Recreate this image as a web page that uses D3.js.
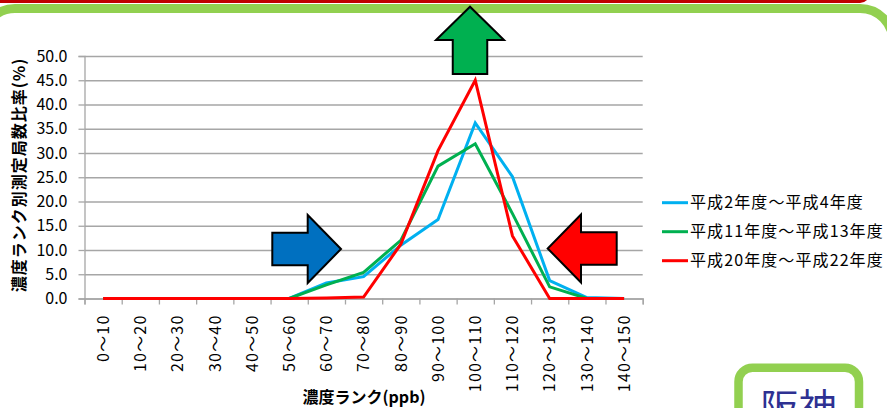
<!DOCTYPE html>
<html lang="ja">
<head>
<meta charset="utf-8">
<script src="https://cdn.jsdelivr.net/npm/d3@7"></script>
<style>
  html, body { margin: 0; padding: 0; background: #fff; }
  svg { display: block; font-family: "Noto Sans CJK JP", "Noto Sans", sans-serif; }
</style>
</head>
<body>
<svg id="chart" width="887" height="408"></svg>
<script>
// Concentration ranks (ppb)
const categories = ["0～10", "10～20", "20～30", "30～40", "40～50", "50～60", "60～70",
  "70～80", "80～90", "90～100", "100～110", "110～120", "120～130", "130～140", "140～150"];

// Share of monitoring stations in each rank (%)
const heisei02to04 = [0, 0, 0, 0, 0, 0, 3.2, 4.5, 11.0, 16.3, 36.2, 25.1, 3.7, 0.2, 0];
const heisei11to13 = [0, 0, 0, 0, 0, 0, 2.8, 5.4, 12.0, 27.3, 31.9, 17.5, 2.4, 0, 0];
const heisei20to22 = [0, 0, 0, 0, 0, 0, 0.1, 0.3, 11.2, 30.5, 45.0, 12.9, 0, 0, 0];

const seriesNames = ["平成2年度～平成4年度", "平成11年度～平成13年度", "平成20年度～平成22年度"];
const seriesColors = ["#00B0F0", "#00B050", "#FF0000"];
const yTicks = [0, 5, 10, 15, 20, 25, 30, 35, 40, 45, 50];

const yTitle = "濃度ランク別測定局数比率(%)";
const xTitle = "濃度ランク(ppb)";
const badge = "阪神";

const series = [heisei02to04, heisei11to13, heisei20to22].map((values, i) => ({
  name: seriesNames[i], color: seriesColors[i], values
}));

const svg = d3.select("#chart");
const plot = { left: 84.5, right: 642.7, top: 56, bottom: 298.5 };

// Page frame: red band and green rounded panel
svg.append("rect").attr("x", -20).attr("y", -30).attr("width", 890).attr("height", 33)
  .attr("rx", 10).attr("fill", "#C00000");
svg.append("rect").attr("x", -18).attr("y", 8.5).attr("width", 911).attr("height", 520)
  .attr("rx", 33).attr("fill", "#fff").attr("stroke", "#92D050").attr("stroke-width", 9);

const x = d3.scaleBand().domain(categories).range([plot.left, plot.right]);
const xEdge = d3.scaleLinear().domain([0, categories.length]).range([plot.left, plot.right]);
const y = d3.scaleLinear().domain([0, 50]).range([plot.bottom, plot.top]);

// Horizontal gridlines
svg.append("g")
  .attr("transform", `translate(${plot.left},0)`)
  .call(d3.axisLeft(y).tickValues(yTicks).tickSize(-(plot.right - plot.left)).tickFormat(""))
  .call(g => g.select(".domain").remove())
  .call(g => g.selectAll("line").attr("stroke", "#A6A6A6").attr("stroke-width", 1.3));

// Y axis
svg.append("g")
  .attr("transform", `translate(${plot.left},0)`)
  .call(d3.axisLeft(y).tickValues(yTicks).tickSize(6).tickPadding(11).tickFormat(d3.format(".1f")))
  .call(g => g.select(".domain").attr("stroke", "#A6A6A6").attr("stroke-width", 1.3))
  .call(g => g.selectAll("line").attr("stroke", "#A6A6A6").attr("stroke-width", 1.3))
  .call(g => g.selectAll("text").attr("font-size", 16).attr("fill", "#000")
    .attr("font-family", "'Noto Sans CJK JP', sans-serif"));

// X axis: ticks at category boundaries
svg.append("g")
  .attr("transform", `translate(0,${plot.bottom})`)
  .call(d3.axisBottom(xEdge).tickValues(d3.range(categories.length + 1)).tickSize(6).tickFormat(""))
  .call(g => g.select(".domain").attr("stroke", "#A6A6A6").attr("stroke-width", 1.3))
  .call(g => g.selectAll("line").attr("stroke", "#A6A6A6").attr("stroke-width", 1.3));

// X category labels, rotated
svg.append("g")
  .attr("transform", `translate(0,${plot.bottom})`)
  .call(d3.axisBottom(x).tickSize(0))
  .call(g => g.select(".domain").remove())
  .call(g => g.selectAll("text")
    .attr("transform", "rotate(-90)")
    .attr("text-anchor", "end")
    .attr("x", -16).attr("y", 0).attr("dy", "0.36em")
    .attr("font-size", 16).attr("letter-spacing", 1.2).attr("fill", "#000")
    .attr("font-family", "'Noto Sans CJK JP', sans-serif"));

// Series lines
const line = d3.line()
  .x((d, i) => x(categories[i]) + x.bandwidth() / 2)
  .y(d => y(d));

svg.append("g").selectAll("path").data(series).join("path")
  .attr("d", s => line(s.values))
  .attr("fill", "none")
  .attr("stroke", s => s.color)
  .attr("stroke-width", 3)
  .attr("stroke-linejoin", "miter");

// Block arrows
function blockArrow(tipX, tipY, dir, headLen, headW, shaftLen, shaftW) {
  // shape drawn pointing right, then rotated into place
  const pts = [
    [0, 0], [-headLen, -headW / 2], [-headLen, -shaftW / 2],
    [-headLen - shaftLen, -shaftW / 2], [-headLen - shaftLen, shaftW / 2],
    [-headLen, shaftW / 2], [-headLen, headW / 2]
  ];
  const angle = { right: 0, left: 180, up: -90 }[dir];
  return { d: "M" + pts.map(p => p.join(",")).join("L") + "Z",
           transform: `translate(${tipX},${tipY}) rotate(${angle})` };
}

const arrows = [
  { a: blockArrow(341, 249, "right", 33.3, 68, 35.4, 32.7), fill: "#0070C0" },
  { a: blockArrow(547.7, 248.5, "left", 33.3, 68, 35.7, 32.7), fill: "#FF0000" },
  { a: blockArrow(470, 6.7, "up", 33.3, 68, 34, 34.5), fill: "#00B050" }
];
svg.append("g").selectAll("path").data(arrows).join("path")
  .attr("d", d => d.a.d)
  .attr("transform", d => d.a.transform)
  .attr("fill", d => d.fill)
  .attr("stroke", "#000")
  .attr("stroke-width", 2)
  .attr("stroke-linejoin", "miter");

// Legend
const legend = svg.append("g").selectAll("g").data(series).join("g")
  .attr("transform", (d, i) => `translate(662,${202.7 + i * 29})`);
legend.append("line").attr("x1", 0).attr("x2", 26)
  .attr("stroke", d => d.color).attr("stroke-width", 3);
legend.append("text").attr("x", 28).attr("dy", "0.36em")
  .attr("font-size", 16).attr("letter-spacing", 1.1).attr("fill", "#000")
  .text(d => d.name);

// Axis titles
svg.append("text")
  .attr("transform", "translate(19,175) rotate(-90)")
  .attr("text-anchor", "middle").attr("dy", "0.36em")
  .attr("font-size", 16).attr("font-weight", "bold").attr("letter-spacing", 1)
  .text(yTitle);
svg.append("text")
  .attr("x", 364).attr("y", 397).attr("dy", "0.36em")
  .attr("text-anchor", "middle")
  .attr("font-size", 16).attr("font-weight", "bold")
  .text(xTitle);

// Region badge at lower right
svg.append("rect").attr("x", 738.5).attr("y", 367.7).attr("width", 120.5).attr("height", 100)
  .attr("rx", 14).attr("fill", "#fff").attr("stroke", "#92D050").attr("stroke-width", 8.5);
svg.append("text").attr("x", 798.5).attr("y", 421)
  .attr("text-anchor", "middle").attr("font-size", 38).attr("fill", "#2E3192")
  .text(badge);
</script>
</body>
</html>
